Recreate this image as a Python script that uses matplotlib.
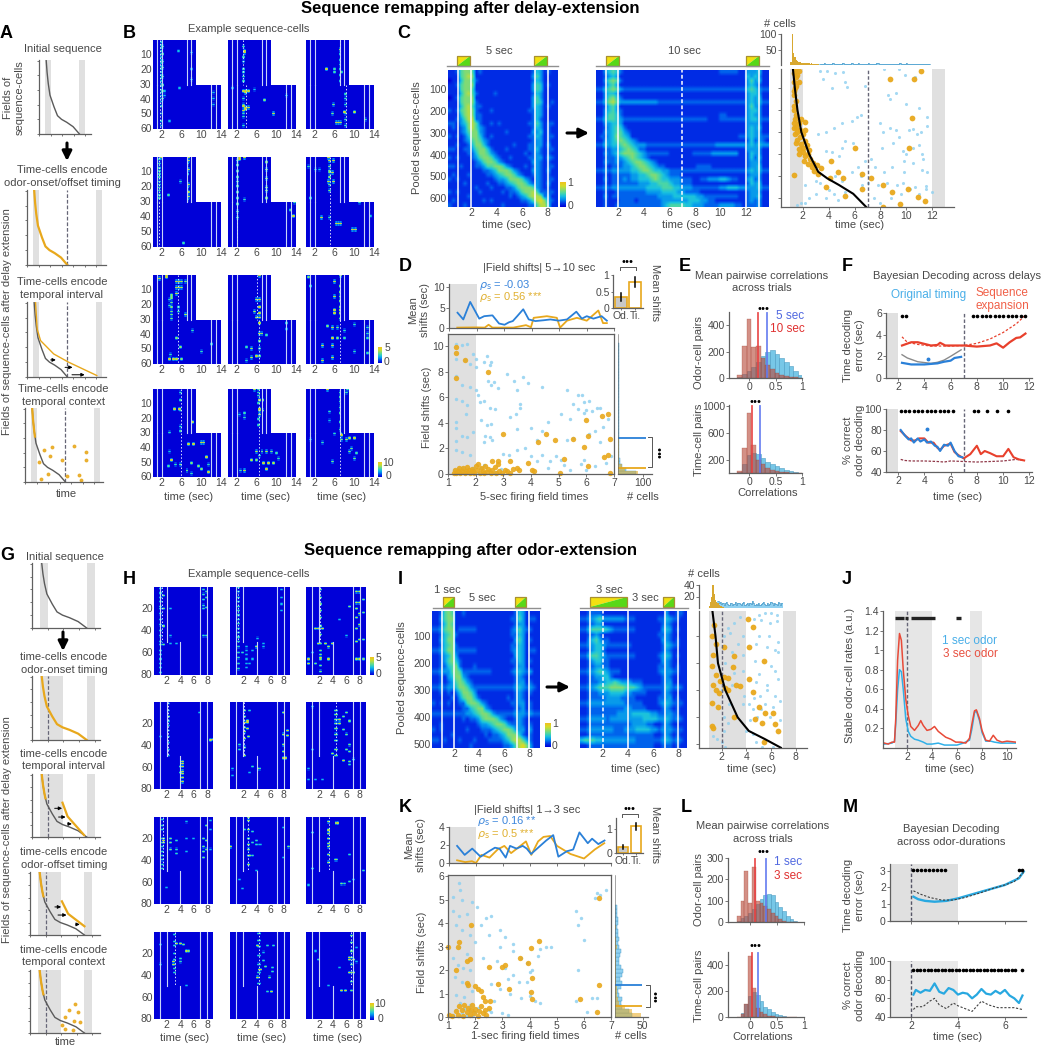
import numpy as np
import matplotlib
matplotlib.use('Agg')
import matplotlib.pyplot as plt
from matplotlib.colors import LinearSegmentedColormap
from matplotlib.patches import Rectangle, Polygon

plt.rcParams['font.family'] = ['Liberation Sans', 'DejaVu Sans']
plt.rcParams['font.size'] = 7.5
plt.rcParams['mathtext.fontset'] = 'dejavusans'

W, H = 1041, 1050
TXT = '#484848'
SP = '#606060'
BAND = '#e0e0e0'
ORG = '#e8a81c'
SKY = '#8fd0f0'
BLU = '#2a80d8'
RED = '#e8402c'
HEAT = LinearSegmentedColormap.from_list('heat', ['#0000d8', '#0038e8', '#0088f0', '#18c0e0', '#50d8a0',
                                                  '#98dc60', '#d8dc28', '#f0c020'])

# ---------------------------------------------------------------- schematic sequence
seq_frac = [0, .16, .31, .47, .63, .75, .8, .84, .9, 1]
seq_time = [1.25, 1.4, 1.6, 1.9, 2.6, 3.2, 3.9, 4.8, 5.9, 7]
top_frac = [0, .16, .31, .38]
top_time = [1.25, 1.4, 1.6, 1.72]
a3_time = [1.48, 1.77, 2.35, 4.64, 7.2, 12.1]
a3_frac = [0, .355, .51, .69, .8, .98]
a4_dot_t = [3.26, 4.7, 8.55, 10.6, 10.6, 4.3, 2.4, 6.4, 3.95, 2.8, 9.3, 9.76, 7.3]
a4_dot_f = [.56, .52, .51, .59, .70, .64, .73, .70, .89, .96, .91, .97, .92]
g3_time = [3.9, 4.55, 6.67]
g3_frac = [.45, .67, .97]
g4_time = [4.1, 4.9, 7.0]
g4_frac = [.46, .66, .86]
g5_dot_t = [5.77, 5.0, 6.2, 4.5, 5.6, 6.37, 4.07, 4.46, 5.5]
g5_dot_f = [.54, .63, .67, .75, .8, .82, .87, .93, .95]

# ---------------------------------------------------------------- example cells, panel B (time, trials, level)
B_cells = [
 [[(1.8,[2,4,6,8,10,12,14,16,18,20,22,24,26,28,30,32,34,36,38,40,42,45,50,55,58],3),(2.0,[5,10,15,19,25,31,35,40],5),(5.2,[8],3),(8,[9,20,27],3),(5.5,[33],3),(2.5,[35,38],3),(12.5,[36,40,44],3),(3.5,[55],3)],
  [(3.5,[8,9],9),(3.3,[5,12,15,20,22,25,28,40,44,50,52,58],4),(3.7,[35,36,46,47],8),(3.2,[35,45,48],7),(4.2,[35,46],7),(9.5,[50],8),(7.7,[41],5),(5.5,[34],3),(1,[33],3),(12,[38],3)],
  [(7.1,[7],8),(7.0,[10,14,17,20,24,28],4),(7.5,[22],4),(8.3,[37,40,44,50,54,58],4),(4.3,[20],8),(6.3,[56],8),(6.8,[56],7),(7.2,[56],6),(8,[49],8),(10,[49],6),(5.5,[50],5),(5.7,[44],5),(12.3,[54],4),(6,[20,22],4)]],
 [[(1.5,[2,5,8,10,12,14,17,19,21,23,26,28],4),(1.9,[1],6),(7.5,[1,3,9,19,24,27],6),(7.2,[5,12,21,29],4),(3.2,[26],4),(5.7,[17],4),(6.2,[58],4)],
  [(2.5,[1,2],9),(3.5,[1],8),(2.1,[3,6,10,14,17,20,24,28,32,37,41],5),(8,[4,9,15,21,23,28],6),(12.8,[36],4),(13.5,[40],8),(13.7,[31],4),(3.5,[29],4)],
  [(4.8,[1],8),(5,[3],7),(5.8,[3],7),(5,[7,10,11,14,17,19,23],5),(5.5,[11],8),(4.7,[17],8),(5.7,[17],7),(1,[28],4),(.7,[7],4),(2,[9],3),(3,[9],3),(3.4,[41],7),(5,[41],4),(6.2,[45],8),(6.8,[45],8),(7.2,[45],8),(9.7,[49],8),(10.3,[49],8),(11,[31],4),(13.2,[40],3)]],
 [[(1.5,[3],7),(3,[1,2],7),(5,[5],9),(5.5,[5,9],8),(6,[5,9],6),(6.7,[5],5),(5,[9,13],7),(4,[14,15,16,19,22,25,27,30],5),(3.5,[17,21],4),(5.2,[22,25],4),(6.8,[27],6),(5,[43],5),(8.3,[38],4),(5.8,[49],5),(3.8,[54],4),(3.5,[57],8),(4.2,[57],8),(5,[57],7),(6,[57],5),(10,[52],4),(12,[47],4)],
  [(6.5,[1,17,22,26,29,33],8),(6,[17,29],6),(5.5,[25],6),(7,[40],8),(6.5,[40],7),(6.4,[45,50,55],5),(8,[41],4),(5,[50,56],6),(4,[49,58],4),(6,[55],7),(12,[33],4),(12,[37],3)],
  [(7,[1,8,12,15,18,22,26,30],6),(7.3,[1],9),(6,[5,15,24,26],7),(6,[15],9),(7,[24,26],9),(1,[8],4),(.7,[2],5),(5.5,[36,43,48,56],7),(6.5,[36,43],5),(8,[38,43],4),(12.7,[36,40,43,53],4),(10,[34],4),(10,[52],4),(3.5,[48,58],7),(4.5,[35],5)]],
 [[(5.8,[3,8,15,26,29],4),(4.5,[14],7),(5.5,[14],7),(8.3,[23],6),(3.5,[30],4),(7.5,[38],8),(8.5,[38],7),(10,[37],8),(10.5,[37],9),(3.5,[43],3),(11,[47],8),(4,[49],8),(3.2,[53],4),(4.8,[52],4),(5.8,[52],5),(8,[51],5),(9.5,[53],5),(11.5,[52],4),(7,[56],6),(8,[58],4),(10,[55],5),(11.5,[57],8)],
  [(5.5,[1],6),(6.2,[1,5],4),(6.5,[8,14,15,18],8),(7.3,[8,15],6),(6.3,[3,10,21,25],4),(3.5,[17,20],4),(2.5,[18],3),(6,[43],6),(7,[43],6),(8,[43],6),(9,[43],5),(5,[49],6),(6,[49],5),(7.5,[51],7),(8.5,[51],7),(9.5,[51],6),(8,[55],8),(3.5,[56],7),(2.8,[56],4),(10,[44],4),(10.5,[48],4),(6.5,[46],4)],
  [(4.5,[1],7),(7,[3,6,9,13,17,23,28],5),(8.5,[3],4),(8.7,[1],4),(5,[16],4),(5,[22],3),(7.2,[31],8),(7.6,[32],7),(6,[31],4),(10,[34],9),(9,[34],6),(8.5,[35],6),(7.5,[35],5),(3.5,[37],4),(9.5,[41],5),(10.5,[44],4),(9,[43],5),(5.5,[50],5),(10,[48],5),(1,[35],3)]],
]
B_dash = [[(1.7, 1.7), (3.3, 3.8), (7.0, 8.3)], [(1.4, 1.4), (2.1, 2.1), (5.1, 5.1)],
          [(5.3, 5.3), (6.0, 6.5), (7.0, 7.0)], [(5.8, 5.8), (6.4, 6.4), (7.0, 7.0)]]
B_ticks_x = [2, 6, 10, 14]
B_ticks_y = [10, 20, 30, 40, 50, 60]

# ---------------------------------------------------------------- example cells, panel H
H_cells = [
 [[(1.1,[2,6,10,14,18,20,25,30,35,40,45,50,53,58,62,66,70,74,78],4),(1.5,[8,20,36,53],5),(7.5,[3,7,12,17,20,45],4),(8,[5,10,19,45],4),(2.5,[20,45,52],3),(3.5,[52],3)],
  [(1.3,[1,5,10,14,18,22,26,30,34,38,42,46,50,55,60,65,70,75],4),(2.5,[55,58,62,66,70,74],3),(3.5,[58,66],3),(4,[55],6),(4.2,[47],3),(5,[52,55],3),(7.7,[3,10,16,22],3),(2,[60],4),(3,[70],3)],
  [(2.2,[3,10,16,22,28,36,44,52,58,62,66,72,77],5),(1.5,[38],7),(2,[38],8),(2.5,[38],7),(2,[52],8),(3,[52],7),(4,[52],7),(3.5,[55],6),(2.2,[65],9),(.5,[66,70],7),(1.5,[70],5),(3.5,[66],7),(7.5,[5,15,20,28,38,50,66],6),(8,[5,15,25,35,48,66],6),(6.5,[18],5),(8.5,[12,24,48,66],5),(1,[60],3),(5,[30],3),(6,[45],3)]],
 [[(2.2,[2,8,14,18,22,27,32,38,44,50],3),(2.3,[14],6),(4.3,[55,57,60,64,66,70,74],8),(4,[60,65],5),(8.5,[35,36],6),(8.8,[35],8),(1,[32],3),(6.9,[10],3)],
  [(2.2,[8,14,24,28,34,42,50],6),(2.7,[18,19,25],8),(2.2,[19],8),(3,[8],4),(1.5,[40,44],4),(2.8,[32],6),(8,[10,30,40,46,52],6),(8.5,[27,31],7),(8.3,[52],9),(3.5,[60],4),(4.3,[62],5),(.5,[62,68],3),(3,[65],3)],
  [(4.5,[8,12,17,20,25,30,36,44,50],5),(5,[17,20],7),(5.5,[14,26],5),(6,[10,30,44],5),(6.5,[18,40,46,55],5),(5.5,[54],8),(4,[48],6),(6.5,[58],4),(1,[44],3),(.5,[62,72],3),(1.5,[72],3),(2.5,[72],3),(1,[5],3),(7,[53],4)]],
 [[(1.3,[3,8,12,20,24,28,32,36,40,44,48],4),(1.5,[20,22,24],8),(2.5,[20,24,30],5),(3.5,[22,30,34],4),(5,[20,32],3),(6,[20],3),(7.5,[20,28,32,38],5),(8,[8,22,30],5),(8.5,[4,12,30],3),(5,[5],3),(2,[65],3)],
  [(2.8,[1,4,12,20,26,30,36,44],6),(3,[36],8),(2.2,[12],4),(3.5,[14,24,36],4),(4,[22,26],4),(4.5,[26],3),(.2,[28],8),(8.7,[28],5),(4,[50],3),(2,[66],3),(1.5,[58],3),(8,[10,38],3)],
  [(3.5,[5,12,16,20,25,28,35,42],6),(3.5,[13],9),(4.7,[6],8),(4.5,[40],5),(1,[15,48],4),(.5,[63],3),(6.5,[35,60],4),(5.2,[62],5),(5.7,[62],4),(7,[58],3),(8.5,[50],4)]],
 [[(3.2,[3,9,13,20,26,30,34,38],4),(3.5,[11],8),(4,[11],9),(4.5,[12],5),(5,[18],6),(5.3,[18],5),(3,[28,30],7),(1,[12,30],3),(4,[25,28],4),(5,[50],3)],
  [(4.3,[2,8,14,22,30,38,48],4),(4.2,[13],8),(4.2,[42],8),(4.5,[35],7),(5.5,[13],4),(6.5,[13],4),(5,[27],4),(5.2,[32],5),(5.8,[42],5),(6.3,[33,37],4),(5.5,[55],4),(6.2,[55],7),(5,[19],3)],
  [(6.7,[4,10,18,24,30,38,46,54],5),(6.4,[24,26,38],8),(7,[26,38],7),(5.3,[54],7),(5.8,[54],8),(3.5,[50],3),(1.5,[18],3),(2,[26],4),(7.5,[15,28],3),(5,[33],3)]],
]
H_dash = [[1.3, 1.3, 2.2], [2.2, 2.2, 4.5], [1.5, 2.8, 3.5], [3.2, 4.3, 6.7]]
H_ticks_x = [2, 4, 6, 8]
H_ticks_y = [20, 40, 60, 80]

# ---------------------------------------------------------------- pooled heat maps (each digit is a level 0-9)
C_five = ["11256651211111111111112431211","11156761111111111111113531111","01146652111111111111112431111",
"11256661111111111111113541211","11156651111111111111113541111","11146752111121111111112431111",
"01256661111111111111113531111","11156662111111111111113541121","11146752211111111111113431211",
"21256762111211111111122431111","11146762211111111111112431111","11235772211111111111112421111",
"22134675211212111111122531221","12123675321111111111112431211","11123566321111121111113341211",
"21212466421211111111122431221","11112356532111111111112331211","11211246642111111211122331311",
"22112235664211121111122421221","11111224665321111111212321211","21211123566532112111122331321",
"11111112356653211111113321211","22121112235566532111212321221","11111111122346665321113321311",
"12111211112234566532112321211","21211111111123346665321321221","11112111112112234566532321311",
"11111112111211122356665321211","21211111211111212235667522221","11111211111111112123467762311",
"12111111121211111112235786321","21112111111111211111122577411"]
C_ten = ["113454211111111111111111111111112222211333411","112343111111111111111111111111111111111434311",
"113565211111111111111111111111111111111353411","112453111111111111111111111111111111111343211",
"224565322222222222222222222222222222222454322","113443111111111111111111111111111111111344311",
"113564211111111111111111111111111111111343411","224675333333333322222222222222222222222343422",
"112453111111111111111111111111111111111353311","113453211111111111111111111111111111111344311",
"113554211111111111111111111111112211111343311","224554322222222222222222222221112222222344322",
"113344311111111111111111111111111111111333311","112345421111111111111111111111111111111343411",
"113345532111111111111111111111111111111343311","122346543111111111111111111111111111122343322",
"113345654321111111111111111111111111111242321","224344565433322222222222222222233333333343433",
"112233456542211111111111111111111111111333311","113234566654322222211111122222333333311243311",
"112223345654321111111111111111111111111242411","113223234566543211111111111111111111111233311",
"112122233456654322111111112222111111111233411","223233333445665443322222222222222222222343422",
"112122222334456654322211111111111111111233311","113122232334445654433322211223334432211342311",
"112122222223334455543322211111111111111243411","223233333333344445554433322222223344433333422",
"112112222222233334444332222111111111111233311","113122222222222233334444443322222222211233411",
"112111222212222223333333444332211111111232311","112112222222222223455554433322223333221222311"]
I_one = ["11256511211111111111112431111","11356611111111111111122531221","11246511111111111111112331111",
"22356612222211111111123532211","11245621111111111111122431111","11346611111111111111113531211",
"11245621111111111111122431111","22346622222211111111123431221","11234631111111111111113431111",
"11235642111111111111122431211","11224562111211111111112331111","22333565222222221111123432311",
"11213466321111111111112321111","11212356532111111111112331211","22323346653222222222223432321",
"11212124665311111111112321211","11111213566421111111212321111","21212112256653211111122331211",
"11111111224566321111112231211","22222222233456653222223332322","11111111212235666532112321111",
"11211111111123345665322321211","21211111121112223456653331311","11111211111111212234666421211",
"22121112111211122223467753211","11111111112111111112235786311"]
I_three = ["11222211111111111111111311221","22334533333322211111122432211","11223311111111111111112321111",
"22455554322222211111113431211","11223211111111111111122321111","11345322111111111111113321211",
"22334432222222111111112432211","11234421111111111111112321111","22455432222222211111123431211",
"11234422111111111111113321111","11223322111111111111122321211","22334543222111111111123332211",
"11223344211111111111112321111","11222334454333222111112331111","22334555666655543222222432321",
"11222333444433222211112321111","11222223333222211111122331211","22333333333322222111123432221",
"11222222222233222211112321211","11222222223333444443322332211","22333332333333333444433432321",
"11222222222222333322112321111","22333333322233344443323332221","11222222222222222222112321211",
"45554433333333322222223432321","11222222222222222222112221211"]

# ---------------------------------------------------------------- raster C
C_curve_rank = [13, 100, 200, 300, 400, 480, 510, 540, 580, 640]
C_curve_time = [1.25, 1.4, 1.6, 1.9, 2.5, 3.2, 3.9, 4.8, 5.9, 6.9]
C_blue = [(3.3,20),(3.6,60),(3.9,20),(4.5,30),(5.1,25),(5.3,70),(6.8,90),(4.3,100),(5.4,95),(8.3,15),(9.4,15),(9.9,40),(10.7,50),(9.2,120),(8.7,150),(10,170),(11,190),(11.6,230),(8.6,130),(6.5,220),(5.8,250),(6.2,230),(5,260),(4.4,280),(3.8,300),(3.2,310),(8,260),(8.2,300),(8.7,280),(9.2,290),(9.4,320),(10.2,290),(10.5,285),(10.8,310),(11.1,300),(11.6,270),(8.1,370),(9,350),(9.7,385),(10,400),(10.5,370),(11,360),(11.2,400),(7.6,460),(8.3,480),(8.9,460),(9.8,430),(9.8,480),(10.5,440),(11.3,420),(11.2,470),(11.6,480),(5,370),(5.3,340),(5.9,350),(4.8,410),(4.3,390),(3.8,385),(6.3,460),(6.8,430),(7.3,420),(5.8,480),(4.5,500),(5,520),(6.5,500),(7.0,530),(7.8,540),(8.5,530),(9.3,540),(9.7,530),(10.7,550),(11.5,545),(3,520),(3.3,530),(2.2,540),(2.5,600),(3,580),(3.8,600),(4.4,580),(4.7,610),(5.3,570),(6.6,540),(7.5,600),(8,620),(8.8,600),(9.6,580),(10.3,560),(11,580),(11.5,560),(12,570),(2.2,620),(1.6,630),(1.9,620),(4,565)]
C_orange = [(1.4,15),(1.7,20),(1.5,50),(1.7,70),(1.4,100),(1.3,130),(1.5,160),(1.3,200),(1.5,220),(1.9,240),(1.7,260),(2.2,255),(1.3,280),(1.8,290),(2.2,290),(1.4,310),(1.8,320),(2.2,340),(1.5,350),(2,370),(2.5,380),(1.7,400),(2.2,410),(2.6,420),(2.8,440),(3.1,450),(3.4,465),(1.3,30),(1.6,40),(1.35,70),(1.5,90),(1.3,115),(1.35,180),(1.4,240),(1.35,260),(1.5,275),(1.6,300),(2.0,310),(1.6,335),(1.9,355),(2.3,360),(1.7,375),(2.0,390),(2.4,400),(2.1,430),(2.4,445),(2.7,460),(2.9,475),(3.2,490),(11.1,20),(8.7,60),(10.6,60),(10.4,235),(10.2,370),(6,370),(4.2,430),(4.7,480),(4.1,510),(6.6,490),(7.3,510),(8.2,540),(3.8,550),(6.6,560),(8.9,570),(5.3,590),(10.1,560),(10.9,595),(11.4,615),(9.5,625),(8.2,638),(1.3,495),(5.1,510)]
C_hist_orange = [10,100,38,25,15,14,10,10,8,6,5,6,6,6,5,4,5,4,3,3,3,2]
C_hist_blue = [4,3,4,3,5,4,3,4,3,4,5,6,4,3,3,4,3,4,5,4,3,4,3,3,4,5,3,4,3,4,5,4,3,3,4,3,4,3,5,4,3,4,3,4,5,5,4,3,4,3,4,3,3,4,3,4,3,4,3,4,3,4,5,4,3,3,4,5,4,3,4,3,4,3,4,3,4,3,3,4,3,4,3,4,3,3]

# ---------------------------------------------------------------- raster I
I_curve_rank = [7, 100, 200, 250, 300, 350, 400, 450, 480, 512]
I_curve_time = [1.25, 1.5, 1.7, 2.0, 2.3, 2.8, 3.3, 4.2, 5.5, 6.8]
I_blue = [(5,20),(5.5,15),(6,15),(6.5,20),(4.6,35),(5.2,40),(5.9,50),(6.5,45),(3.5,30),(3,50),(2.5,70),(3.7,100),(2.7,90),(5,100),(5.8,100),(6.6,120),(4.8,130),(5.7,140),(6.3,150),(6.6,160),(3.3,130),(2.8,160),(3.7,170),(4.7,190),(6,210),(6.3,230),(5,240),(6.6,260),(5.7,280),(4.8,270),(3.7,230),(3,235),(2.8,280),(3.8,320),(4.6,330),(5.1,320),(5.7,300),(6.3,320),(6.7,340),(6.2,360),(4.2,350),(4.5,370),(3.7,350),(5.5,350),(5.2,370),(5.9,400),(4.9,400),(4.3,410),(6.7,410),(2.2,400),(2.5,420),(2.2,450),(1.6,480),(2,490),(2.3,510),(1.3,470),(4,450),(4.5,460),(4.8,490),(5.3,510),(6.2,510),(2,300),(2.3,200),(2.2,100),(2.6,350)]
I_orange = [(4.1,35),(4.5,65),(4.2,140),(5.4,190),(3,175),(2.9,215),(4.2,260),(1.2,210),(1.5,245),(1.9,265),(3.2,280),(3.5,285),(4.5,305),(1.3,280),(1.5,300),(1.8,310),(2.3,290),(2.5,300),(5,360),(5.5,385),(6.2,385),(4.7,405),(5.3,420),(6.3,425),(6.6,450),(5.4,490),(3,400),(1.2,430),(1.3,440),(1.2,345),(1.7,360),(1.5,130),(1.3,170),(1.4,60),(1.2,100),(2.2,140),(2.5,255),(2.2,250)]
I_hist_orange = [4,10,20,40,25,14,10,9,6,4,3,2]
I_hist_blue = [12,8,10,7,9,6,8,10,7,5,9,8,6,7,10,5,8,9,7,6,8,10,5,7,9,6,8,7,12,9,6,7,5,8,6,7,9,10,7,5,8,6,7,10,8,5,9,7,6,11,8,6,9]

# ---------------------------------------------------------------- panel D
D_blue_t = [1.31,1.52,1.77,2.1,2.28,2.58,2.82,3.02,3.18,3.32,3.48,3.7,3.9,4.14,4.44,4.69,4.99,5.29,5.63,5.83,6.01,6.25,6.55,6.74]
D_blue_v = [3.75,2.1,6.4,2.3,2.9,3.1,1.1,.8,1.4,1.7,2.9,4.6,2.1,1.7,1.9,2.1,1.8,2.1,4.0,2.3,2.9,2.3,2.9,1.8]
D_org_t = [1.3,2.0,2.3,2.44,2.58,3.34,3.8,3.98,4.08,4.56,4.92,5.04,5.29,5.65,6.01,6.43,6.6,6.74]
D_org_v = [.1,.15,.1,.8,.1,.1,.7,.2,2.5,2.9,2.5,.1,1.8,2.5,1.8,4.3,1.2,1.2]
D_pts_blue = [(1.3,10.2),(1.5,10.1),(1.7,10.2),(1.9,9.4),(1.3,9.0),(1.6,8.9),(1.8,8.6),(2.0,8.4),(2.0,9.0),(1.3,7.7),(1.5,7.0),(1.8,6.8),(2.0,6.6),(2.1,6.2),(2.15,5.6),(1.3,5.9),(1.5,5.7),(1.7,5.4),(1.65,4.7),(1.3,4.1),(1.3,3.6),(1.5,3.0),(1.7,2.9),(1.9,3.3),(1.3,2.6),(1.3,1.9),(1.5,1.7),(1.8,1.5),(2.3,8.8),(2.4,9.2),(2.5,8.5),(2.55,8.8),(2.45,7.3),(2.55,7.0),(2.65,7.2),(2.8,6.7),(3.15,7.8),(3.4,7.3),(3.5,6.6),(3.7,7.6),(3.9,7.1),(3.6,5.5),(3.6,5.2),(3.25,4.5),(3.45,4.7),(2.3,5.7),(2.5,5.2),(2.7,5.1),(2.2,4.2),(2.4,3.8),(2.55,3.9),(2.35,3.0),(2.5,2.9),(2.6,2.7),(2.3,2.5),(3.5,3.5),(4.0,3.6),(4.4,3.4),(4.2,2.7),(4.6,4.1),(4.4,6.8),(3.0,1.6),(3.2,1.5),(3.5,1.9),(3.8,2.0),(4.0,1.4),(4.2,1.0),(4.4,1.5),(4.7,1.0),(4.9,1.4),(5.1,4.7),(5.4,4.3),(5.3,6.6),(5.5,5.5),(5.7,6.2),(5.85,6.2),(5.9,5.6),(6.1,5.7),(5.7,5.1),(5.9,4.8),(6.0,5.0),(6.4,5.2),(6.2,4.9),(6.5,5.2),(6.8,4.3),(6.6,3.7),(6.3,3.4),(6.1,3.1),(5.5,2.8),(5.3,2.7),(5.9,1.1),(5.8,0.8),(5.2,0.7),(5.4,0.3),(6.0,0.3),(6.3,0.6),(6.7,0.9),(6.9,1.4),(6.5,2.5),(5.1,1.1),(4.6,0.5),(2.2,0.5),(1.2,.3),(1.3,.1),(1.35,.4),(1.45,.2),(1.5,.5),(1.6,.1),(1.65,.3),(1.8,.2),(1.9,.5),(2.1,.1),(2.3,.7),(2.5,.3),(2.7,.15),(2.9,.4)]
D_pts_org = [(1.3,9.95),(1.3,9.45),(1.6,8.95),(1.3,7.5),(2.45,8.0),(3.0,3.1),(4.25,2.5),(4.55,3.1),(4.85,2.7),(5.5,2.75),(6.05,2.95),(5.9,2.1),(6.0,4.25),(6.55,4.55),(6.8,4.7),(6.85,2.75),(6.65,1.35),(6.8,1.45),(6.05,.65),(5.2,1.2),(3.25,1.0),(2.6,1.05),(2.8,1.0),(2.8,.8),(3.9,.85),(4.05,.3),(4.1,.2),(3.5,.45),(3.55,.35),(5.05,.05),(6.85,.05),(1.2,.1),(1.25,.3),(1.3,.05),(1.35,.2),(1.4,.5),(1.45,.1),(1.5,.25),(1.55,.45),(1.6,.05),(1.65,.2),(1.7,.55),(1.75,.3),(1.8,.1),(1.85,.4),(1.9,.2),(1.95,.05),(2.0,.6),(2.05,.3),(2.1,.8),(2.15,.1),(2.2,.5),(2.25,.25),(2.3,.05),(2.35,.65),(2.4,.15),(2.45,.4),(2.55,.1),(2.6,.3),(2.7,.55),(2.75,.05),(2.85,.25),(2.95,.1),(3.05,.35),(3.15,.2),(3.25,.05),(3.35,.4)]
D_side_bins = [.12,.37,.62,.87,1.12,1.37,1.62,1.87,2.12,2.37,2.62,2.87,3.12,3.37,3.62,3.87,4.12,4.37,4.62,4.87,5.12,5.37,5.62,5.87,6.12,6.37,6.62,6.87,7.12,7.37,7.62,7.87,8.12,8.37,8.62,8.87,9.12,9.37,9.62,9.87,10.12]
D_side_blue = [70,32,14,8,6,5,5,4,4,4,4,3,3,3,3,3,3,3,3,2,3,2,3,2,2,2,2,2,2,2,2,2,2,2,2,2,2,2,2,2,2]
D_side_org = [80,28,14,5,4,3,2,2,2,2,2,1,1,1,1,1,1,1,0,0,0,0,0,0,0,0,0,0,0,0,0,0,1,0,0,0,0,1,0,1,0]
D_bar = [.33, .8]
D_bar_err = [(.2, .45), (.65, .95)]

# ---------------------------------------------------------------- panel E
E_bin = .088
E_k = [-2,-1,0,1,2,3,4,5,6,7,8,9,10,11,12]
E_up_red = [20,240,450,235,240,150,100,70,40,25,15,8,5,2,1]
E_up_blue = [10,30,50,80,120,170,200,210,180,150,120,90,50,25,10]
E_lo_red = [30,380,900,420,200,130,80,50,30,15,8,3,1,0,0]
E_lo_blue = [10,130,270,300,280,230,170,140,110,80,50,25,12,5,1]

# ---------------------------------------------------------------- panel F
F_red_t = [2.3,3,3.5,4,4.5,5,5.2,5.6,6,7,8,8.5,9,9.5,10,10.5,11,11.3,11.7]
F_red_v = [3.0,3.3,3.3,3.15,3.0,3.05,3.25,3.0,3.0,3.0,2.9,2.95,3.0,3.2,2.8,3.3,3.7,3.75,4.1]
F_rdash_t = [2.3,2.7,3.5,4.5,6,7,8,9,10,11,11.7]
F_rdash_v = [3.8,3.3,3.1,2.95,2.95,3.0,3.2,3.6,4.2,5.0,5.8]
F_blue_t = [2.3,3,4,5,5.5,6,6.3,6.8]
F_blue_v = [1.4,1.25,1.25,1.35,1.5,1.6,1.85,1.95]
F_gray_t = [2.3,2.7,3.5,4.5,5,5.5,6,6.8]
F_gray_v = [2.15,1.85,1.5,1.35,1.45,1.65,2.0,2.6]
F_st_up = [2.3,2.6,7.7,8.03,8.36,8.69,9.02,9.35,9.68,10.01,10.34,10.67,11,11.33,11.66]
F_lo_blue_t = [2.2,2.5,2.8,3,3.2,3.5,3.7,4,4.2,4.5,4.8,5,5.2,5.5,5.8,6,6.3,6.6,6.9]
F_lo_blue_v = [80,75,71,72,68,72,69,71,68,69,65,64,60,66,65,68,60,55,54]
F_lo_red_t = [2.2,2.6,3,3.3,3.6,4,4.3,4.7,5,5.2,5.5,6,6.3,6.6,7,7.5,8,8.3,8.6,9,9.5,10,10.4,10.8,11.2,11.6]
F_lo_red_v = [79,74,70,70,72,72,68,68,63,61,65,67,59,56,53,57,65,57,60,58,55,55,62,54,52,51]
F_ld_t = [2.2,2.5,3,4,5,5.5,6,7,8,9,10,11,11.6]
F_ld_v = [52,51,50.5,50.5,50,49.5,50.5,50,49.5,50,50.5,52,51]
F_st_lo = [2.2,2.53,2.86,3.19,3.52,3.85,4.18,4.51,4.84,5.17,5.5,5.83,6.16,7.8,8.1,8.8,9.5,10.4]

# ---------------------------------------------------------------- panel J
J_red_t = [.2,.5,.8,1,1.1,1.25,1.4,1.55,1.7,1.9,2.1,2.3,2.6,2.9,3.1,3.3,3.6,3.9,4.2,4.5,4.8,5.1,5.5,5.9,6.3,6.7,7,7.2,7.4,7.55,7.8,8,8.3,8.6,8.9,9.2,9.6,10,10.7]
J_red_v = [.05,.04,.06,.06,.3,.9,1.17,1.1,.8,.5,.33,.22,.18,.23,.28,.23,.18,.19,.22,.17,.14,.11,.09,.06,.06,.05,.1,.25,.38,.39,.3,.18,.08,.07,.13,.08,.06,.07,.06]
J_blue_t = [.2,.8,1,1.1,1.25,1.4,1.55,1.7,1.9,2.1,2.3,2.6,2.9,3.3,3.6,4,4.5,5,5.5,6,6.5,7,7.2,7.4,7.55,7.8,8,8.3,8.7,9,9.5,10,10.7]
J_blue_v = [.04,.05,.07,.25,.6,.8,.78,.6,.3,.17,.12,.09,.08,.06,.04,.04,.05,.03,.03,.03,.05,.08,.2,.36,.38,.28,.16,.07,.07,.06,.05,.05,.05]
J_bars = [(1.0,1.75),(1.85,2.1),(2.3,4.25),(5.95,6.3)]

# ---------------------------------------------------------------- panel K
K_blue_t = [1.3,1.58,1.86,2.17,2.48,2.7,2.87,3.1,3.26,3.5,3.73,3.88,4.04,4.3,4.6,4.86,5.05,5.36,5.6,5.83,6.14,6.3,6.53,6.76]
K_blue_v = [1.9,.9,1.6,.7,1.3,1.7,1.6,.6,1.9,1.6,1.9,1.6,1.0,1.7,2.5,3.1,.7,1.3,1.5,3.4,2.2,2.7,2.1,2.5]
K_org_t = [1.3,1.6,1.85,2.0,2.2,2.5,2.8,3.05,3.3,3.6,3.85,4.05,4.3,4.5,4.75,5.0,5.5,6.0,6.4,6.75]
K_org_v = [.3,.1,.2,0,.9,.6,1.5,1.9,1.1,1.8,2.4,.9,2.4,2.9,3.0,1.9,1.0,.5,1.5,2.2]
K_pts_blue = [(1.4,5.7),(1.45,5.4),(1.2,5.1),(1.5,5.0),(1.9,4.9),(2.05,4.7),(1.2,4.5),(1.4,4.3),(1.7,4.4),(1.3,3.9),(1.5,3.7),(1.8,3.5),(2.0,3.2),(1.4,3.0),(1.7,2.7),(1.2,2.5),(1.35,2.2),(1.55,2.1),(1.8,2.0),(1.25,1.7),(1.5,1.5),(1.7,1.3),(1.9,1.1),(1.3,.95),(1.6,.85),(1.45,.6),(1.8,.5),(2.4,4.2),(2.6,4.3),(2.2,3.9),(2.5,3.5),(2.9,3.7),(3.1,3.4),(3.4,3.1),(2.9,3.0),(3.4,2.8),(2.3,2.5),(2.8,2.4),(3.1,2.1),(3.7,2.5),(3.9,2.3),(4.0,1.9),(4.1,2.0),(4.3,2.6),(4.4,2.9),(4.6,3.0),(4.8,3.0),(3.2,1.6),(3.4,1.8),(3.6,1.5),(3.9,1.5),(2.6,1.4),(2.9,1.2),(3.3,1.0),(3.7,.8),(4.0,.9),(4.2,.7),(4.4,.6),(2.7,.7),(2.5,.3),(2.6,.2),(3.0,.15),(3.2,.1),(5.7,4.5),(5.8,3.9),(6.0,3.3),(5.9,4.2),(6.5,5.3),(6.6,5.2),(6.4,5.05),(6.8,5.4),(5.8,2.0),(5.7,.7),(6.3,.8),(6.5,.8),(6.1,.2),(1.2,.1),(1.3,.3),(1.4,.05),(1.5,.15),(1.6,.35),(1.7,.1),(1.8,.25),(1.9,.05),(2.0,.2),(2.1,.4)]
K_pts_org = [(1.0,3.0),(1.35,3.0),(1.4,3.2),(1.85,3.9),(1.7,2.4),(1.8,2.45),(1.7,1.45),(1.75,1.35),(2.0,1.3),(2.1,1.2),(2.2,1.1),(2.5,2.15),(3.0,2.15),(3.1,2.2),(3.65,2.5),(3.95,2.3),(3.25,1.2),(2.85,1.4),(4.05,2.95),(4.35,3.25),(4.1,1.65),(4.05,1.05),(4.1,.75),(2.3,.85),(2.35,.7),(2.55,.7),(5.85,.75),(6.55,1.35),(6.55,5.05),(6.5,.2),(1.3,2.0),(1.05,.1),(1.15,.05),(1.3,.25),(1.35,.1),(1.4,.45),(1.5,.3),(1.55,.05),(1.6,.5),(1.7,.2),(1.75,.4),(1.8,.1),(1.85,.3),(1.9,.5),(1.95,.15),(2.0,.35),(2.1,.05),(2.15,.25),(2.2,.45),(2.3,.15),(2.35,.3),(2.4,.1),(2.5,.4)]
K_side_bins = [.08,.25,.42,.59,.76,.93,1.1,1.27,1.44,1.61,1.78,1.95,2.12,2.29,2.46,2.63,2.8,2.97,3.14,3.31,3.48,3.65,3.82,3.99,4.16,4.33,4.5,4.67]
K_side_blue = [30,25,12,10,12,8,6,10,12,9,12,14,10,8,7,9,10,8,5,7,6,6,4,6,5,4,3,3]
K_side_org = [48,30,18,8,5,4,4,3,2,2,2,2,2,2,2,1,1,3,1,1,0,0,1,0,0,0,0,0]
K_bar = [.25, 1.1]
K_bar_err = [(.15, .35), (.95, 1.25)]

# ---------------------------------------------------------------- panel L
L_centers = [-.21,-.14,-.07,0,.07,.14,.21,.28,.35,.42,.49,.56,.63,.7,.77,.84]
L_up_red = [30,100,240,90,260,100,90,75,60,40,30,15,6,2,1,0]
L_up_blue = [5,20,30,40,60,85,110,125,130,125,95,70,50,30,15,6]
L_lo_red = [2,20,100,470,220,70,40,20,10,4,2,1,0,0,0,0]
L_lo_blue = [3,30,100,160,190,170,120,80,60,40,25,15,8,3,1,0]

# ---------------------------------------------------------------- panel M
M_blue_t = [2.1,2.3,2.6,3,3.5,4,4.5,5,5.5,6,6.3,6.6,6.8]
M_blue_v = [1.45,1.3,1.2,1.15,1.2,1.35,1.55,1.75,1.95,2.15,2.35,2.55,2.95]
M_dash_t = [2.1,2.4,2.8,3.3,3.8,4.3,5,5.5,6,6.4,6.8]
M_dash_v = [1.8,1.6,1.4,1.25,1.25,1.4,1.7,1.95,2.15,2.35,2.9]
M_st_up = [2.1,2.27,2.44,2.61,2.78,2.95,3.12,3.29,3.46,6.6,6.75]
M_lo_t = [2.1,2.2,2.4,2.6,2.8,3,3.2,3.4,3.6,3.8,4,4.2,4.4,4.6,4.8,5,5.2,5.4,5.6,5.8,6,6.2,6.4,6.6,6.75]
M_lo_v = [64,69,66,69,68,76,67,65,71,69,64,66,65,60,64,70,65,64,68,65,69,63,60,55,63]
M_ld_t = [2.1,2.2,2.5,2.8,3,3.2,3.5,3.8,4,4.3,4.6,5,5.3,5.7,6,6.4,6.75]
M_ld_v = [48,51,51,57,60,53,49,55,52,49,46,57,53,50,50,50,48]
M_st_lo = [2.1,2.25,2.4,2.55,2.7,2.85,3,3.15,3.3,3.45,3.6,3.75,3.9,4.05,4.2,4.35,4.5,4.65,4.8,4.95,5.1,5.25,5.4,5.55,5.7,5.85,6,6.15,6.3,6.45,6.75]

# ================================================================ helpers
fig = plt.figure(figsize=(W / 100, H / 100), dpi=100, facecolor='white')


def AX(x0, y0, x1, y1):
    ax = fig.add_axes([x0 / W, 1 - y1 / H, (x1 - x0) / W, (y1 - y0) / H])
    ax.patch.set_alpha(0)
    return ax


def T(x, y, s, size=8, color=TXT, **kw):
    kw.setdefault('ha', 'center')
    kw.setdefault('va', 'center')
    fig.text(x / W, 1 - y / H, s, fontsize=size, color=color, **kw)


def style(ax, left=True, bottom=True, box=False, length=2):
    for k in ax.spines:
        ax.spines[k].set_linewidth(.9)
        ax.spines[k].set_color(SP)
    ax.spines['top'].set_visible(box)
    ax.spines['right'].set_visible(box)
    ax.spines['left'].set_visible(left)
    ax.spines['bottom'].set_visible(bottom)
    ax.tick_params(length=length, width=.6, color=SP, labelsize=7.5, labelcolor=TXT, pad=1)


def letters(items):
    for s, x, y in items:
        T(x, y, s, size=13, color='black', fontweight='bold')


def to_matrix(rows):
    n = max(len(r) for r in rows)
    return np.array([[int(c) / 9 for c in r.ljust(n, '1')] for r in rows])


def ev_matrix(events, tmin, tmax, nrow, dt=.2):
    nc = int(round((tmax - tmin) / dt))
    M = np.zeros((nrow, nc))
    for t, rows, lev in events:
        i = int((t - tmin) / dt)
        v = min(1, lev / 9 * 1.3)
        for r in rows:
            for dr, wr in ((-1, .3), (0, 1), (1, .3)):
                for j, w in ((i - 1, .7), (i, 1), (i + 1, .7)):
                    rr = r + dr
                    if 0 <= j < nc and 1 <= rr <= nrow:
                        M[rr - 1, j] = max(M[rr - 1, j], w * wr * v)
    return M


def odor_box(x0, x1, y0, y1):
    ov.add_patch(Polygon([(x0, y0), (x1, y0), (x0, y1)], fc='#f2e010', ec='none'))
    ov.add_patch(Polygon([(x1, y0), (x1, y1), (x0, y1)], fc='#58d818', ec='none'))
    ov.add_patch(Rectangle((x0, y0), x1 - x0, y1 - y0, fc='none', ec='#a89030', lw=.9))


def big_arrow(x0, y0, x1, y1, ms=14, lw=2.2):
    ov.annotate('', xy=(x1, y1), xytext=(x0, y0),
                arrowprops=dict(arrowstyle='-|>', lw=lw, color='black', mutation_scale=ms, shrinkA=0, shrinkB=0))


def cbar(x0, y0, x1, y1, top, bottom='0', lx=None):
    ax = AX(x0, y0, x1, y1)
    ax.imshow(np.linspace(1, 0, 64)[:, None], aspect='auto', cmap=HEAT, vmin=0, vmax=1)
    ax.axis('off')
    lx = x1 + 5 if lx is None else lx
    T(lx, y0 + 1, top, size=7.5)
    T(lx, y1 - 1, bottom, size=7.5)


ov = fig.add_axes([0, 0, 1, 1], zorder=20)
ov.set_xlim(0, W)
ov.set_ylim(H, 0)
ov.axis('off')
ov.patch.set_alpha(0)

# ================================================================ titles / letters
T(470, 9, 'Sequence remapping after delay-extension', size=12, color='black', fontweight='bold')
T(471, 550, 'Sequence remapping after odor-extension', size=12, color='black', fontweight='bold')
letters([('A', 6, 33), ('B', 129, 33), ('C', 404, 33), ('D', 405, 267), ('E', 685, 267), ('F', 847, 267),
         ('G', 7, 556), ('H', 129, 580), ('I', 400, 580), ('J', 847, 580), ('K', 405, 808), ('L', 686, 808), ('M', 850, 808)])


# ================================================================ schematics
def schematic(box, tmax, bands, dash=None):
    ax = AX(*box)
    ax.set_xlim(0, tmax)
    ax.set_ylim(1, -.01)
    for a, b in bands:
        ax.axvspan(a, b, color=BAND, lw=0)
    if dash is not None:
        ax.axvline(dash, color='#666677', lw=.9, ls=(0, (3, 1.5)))
    style(ax, length=1.2)
    ax.set_xticks(np.arange(0, tmax, 2))
    ax.set_yticks([0, .2, .4, .6, .8, 1])
    ax.set_xticklabels([])
    ax.set_yticklabels([])
    return ax


GRAY = '#5a5a5a'
ax = schematic((39, 60, 91, 134), 9, [(1, 2), (7, 8)])
ax.plot(seq_time, seq_frac, color=GRAY, lw=1)

ax = schematic((27, 190, 106, 265), 13.7, [(1, 2), (12, 13)], 7)
ax.plot(seq_time, seq_frac, color=ORG, lw=1.6)

ax = schematic((27, 302, 106, 377), 13.7, [(1, 2), (12, 13)], 7)
ax.plot(seq_time, seq_frac, color=GRAY, lw=1)
ax.plot(a3_time, a3_frac, color=ORG, lw=1)
for t0, t1, f in [(4.1, 5.0, .77), (6.6, 7.9, .87), (7.8, 10.0, .97)]:
    ax.annotate('', xy=(t1, f), xytext=(t0, f),
                arrowprops=dict(arrowstyle='-|>', lw=.7, color='black', mutation_scale=5, shrinkA=0, shrinkB=0))

ax = schematic((25, 408, 103, 482), 13.5, [(1, 2), (12, 13)], 7)
ax.plot(seq_time, seq_frac, color=GRAY, lw=1)
ax.plot(top_time, top_frac, color=ORG, lw=1.6)
ax.plot(a4_dot_t, a4_dot_f, ls='none', marker='o', ms=1.8, color=ORG, alpha=.85)

ax = schematic((32, 563, 100, 628), 8.7, [(1, 2), (7, 8)])
ax.plot(seq_time, seq_frac, color=GRAY, lw=1)

ax = schematic((32, 676, 100, 740), 8.7, [(1, 4), (7, 8)], 2)
ax.plot(seq_time, seq_frac, color=ORG, lw=1.6)

ax = schematic((32, 774, 100, 837), 8.7, [(1, 4), (7, 8)], 2)
ax.plot(seq_time, seq_frac, color=GRAY, lw=1)
ax.plot(top_time, top_frac, color=ORG, lw=1.6)
ax.plot(g3_time, g3_frac, color=ORG, lw=1.6)
for t0, t1, f in [(2.9, 3.85, .54), (3.4, 4.3, .68), (4.55, 5.1, .79)]:
    ax.annotate('', xy=(t1, f), xytext=(t0, f), arrowprops=dict(arrowstyle='-|>', lw=.7, color='black', mutation_scale=5, shrinkA=0, shrinkB=0))

ax = schematic((30, 872, 100, 935), 9, [(1, 4), (7, 8)], 2)
ax.plot(seq_time, seq_frac, color=GRAY, lw=1)
ax.plot(top_time, top_frac, color=ORG, lw=1.6)
ax.plot(g4_time, g4_frac, color=ORG, lw=1.6)
for t0, t1, f in [(3.2, 4.0, .55), (3.6, 4.7, .68), (5.9, 6.4, .83)]:
    ax.annotate('', xy=(t1, f), xytext=(t0, f), arrowprops=dict(arrowstyle='-|>', lw=.7, color='black', mutation_scale=5, shrinkA=0, shrinkB=0))

ax = schematic((30, 970, 100, 1033), 9, [(1, 4), (7, 8)], 2)
ax.plot(seq_time, seq_frac, color=GRAY, lw=1)
ax.plot(top_time, top_frac, color=ORG, lw=1.6)
ax.plot(g5_dot_t, g5_dot_f, ls='none', marker='o', ms=1.8, color=ORG, alpha=.85)

T(63, 49, 'Initial sequence')
T(14, 98, 'Fields of\nsequence-cells', rotation=90, linespacing=1.25)
T(62, 176.5, 'Time-cells encode\nodor-onset/offset timing', linespacing=1.3)
T(62, 288.5, 'Time-cells encode\ntemporal interval', linespacing=1.3)
T(63, 395.5, 'Time-cells encode\ntemporal context', linespacing=1.3)
T(7, 322, 'Fields of sequence-cells after delay extension', rotation=90)
T(66, 494, 'time')
big_arrow(67, 143, 67, 161)

T(65, 557, 'Initial sequence')
T(64, 663.5, 'time-cells encode\nodor-onset timing', linespacing=1.3)
T(64, 760, 'time-cells encode\ntemporal interval', linespacing=1.3)
T(64, 858.5, 'time-cells encode\nodor-offset timing', linespacing=1.3)
T(64, 956, 'time-cells encode\ntemporal context', linespacing=1.3)
T(7, 830, 'Fields of sequence-cells after delay extension', rotation=90)
T(65, 1042, 'time')
big_arrow(63, 632, 63, 651)

# ================================================================ panel B
B_cols = [(153, 221), (228, 296), (306, 374)]
B_rows = [(40, 129), (157, 247), (275, 364), (389, 477)]
for r, (y0, y1) in enumerate(B_rows):
    for c, (x0, x1) in enumerate(B_cols):
        ax = AX(x0, y0, x1, y1)
        M = ev_matrix(B_cells[r][c], .2, 14, 60)
        ax.imshow(M, extent=[.2, 14, 60.5, .5], aspect='auto', cmap=HEAT, vmin=0, vmax=1, interpolation='nearest')
        for t in (1, 2, 7, 8):
            ax.plot([t, t], [.5, 30.5], color='#c8d4f8', lw=.8)
        for t in (1, 2, 12, 13):
            ax.plot([t, t], [30.5, 60.5], color='#c8d4f8', lw=.8)
        da, db = B_dash[r][c]
        ax.plot([da, da], [.5, 30.5], color='#d8e0ff', lw=.7, ls=(0, (1.5, 2)))
        ax.plot([db, db], [30.5, 60.5], color='#d8e0ff', lw=.7, ls=(0, (1.5, 2)))
        ax.add_patch(Rectangle((9, .5), 5.2, 30, fc='white', ec='none', zorder=5))
        ax.set_xlim(.2, 14)
        ax.set_ylim(60.5, .5)
        ax.set_xticks(B_ticks_x)
        ax.set_yticks(B_ticks_y if c == 0 else [])
        style(ax, False, False, length=0)
T(249, 29, 'Example sequence-cells')
for x in (189, 266, 342):
    T(x, 497, 'time (sec)')
cbar(378, 347, 382, 363, '5')
cbar(378, 462, 382, 477, '10', lx=388)

# ================================================================ panel H
H_cols = [(154, 213), (230, 290), (306, 366)]
H_rows = [(587, 675), (702, 789), (817, 904), (932, 1019)]
for r, (y0, y1) in enumerate(H_rows):
    for c, (x0, x1) in enumerate(H_cols):
        ax = AX(x0, y0, x1, y1)
        M = ev_matrix(H_cells[r][c], .1, 8.9, 80, dt=.15)
        ax.imshow(M, extent=[.1, 8.9, 80.5, .5], aspect='auto', cmap=HEAT, vmin=0, vmax=1, interpolation='nearest')
        for t in (1, 7, 8):
            ax.plot([t, t], [.5, 80.5], color='#c8d4f8', lw=.8)
        ax.plot([2, 2], [.5, 50.5], color='#c8d4f8', lw=.8)
        ax.plot([4, 4], [50.5, 80.5], color='#c8d4f8', lw=.8)
        d = H_dash[r][c]
        ax.plot([d, d], [.5, 50.5], color='#d8e0ff', lw=.7, ls=(0, (1.5, 2)))
        ax.set_xlim(.1, 8.9)
        ax.set_ylim(80.5, .5)
        ax.set_xticks(H_ticks_x)
        ax.set_yticks(H_ticks_y if c == 0 else [])
        style(ax, False, False, length=0)
T(249, 574, 'Example sequence-cells')
for x in (185, 262, 338):
    T(x, 1038, 'time (sec)')
cbar(370, 657, 374, 675, '5', lx=378)
cbar(370, 1003, 374, 1020, '10', lx=380)


# ================================================================ pooled heat maps
def pooled(box, rows, xlim, ylim, lines, dashed, xticks, yticks):
    ax = AX(*box)
    ax.imshow(to_matrix(rows), extent=[xlim[0], xlim[1], ylim[1], ylim[0]], aspect='auto', cmap=HEAT, vmin=0, vmax=1,
              interpolation='bilinear')
    for t in lines:
        ax.axvline(t, color='white', lw=1.1)
    for t in dashed:
        ax.axvline(t, color='white', lw=1.1, ls=(0, (2.5, 1.5)))
    ax.set_xlim(*xlim)
    ax.set_ylim(ylim[1], ylim[0])
    ax.set_xticks(xticks)
    ax.set_yticks(yticks)
    style(ax, False, False, length=0)
    return ax


pooled((448, 70, 558, 207), C_five, (.2, 8.8), (13, 640), (1, 2, 7, 8), (), [2, 4, 6, 8], [100, 200, 300, 400, 500, 600])
pooled((596, 70, 769, 207), C_ten, (.25, 13.8), (13, 640), (1, 2, 12, 13), (7,), [2, 4, 6, 8, 10, 12], [])
ov.plot([447, 558], [66, 66], color='#909090', lw=1)
ov.plot([596, 769], [66, 66], color='#909090', lw=1)
odor_box(457, 470, 56, 66)
odor_box(534, 547, 56, 66)
odor_box(606, 619, 56, 66)
odor_box(746, 759, 56, 66)
T(499, 51, '5 sec')
T(684, 51, '10 sec')
T(417, 138, 'Pooled sequence-cells', rotation=90)
T(507, 225, 'time (sec)')
T(687, 225, 'time (sec)')
big_arrow(567, 133, 589, 133)
cbar(560, 182, 566, 207, '1', lx=570)

pooled((432, 611, 540, 748), I_one, (.24, 8.88), (7, 513), (1, 2, 7, 8), (), [2, 4, 6, 8], [100, 200, 300, 400, 500])
pooled((580, 611, 687, 748), I_three, (.19, 8.72), (7, 513), (1, 4, 7, 8), (2,), [2, 4, 6, 8], [])
ov.plot([433, 540], [608, 608], color='#909090', lw=1)
ov.plot([580, 688], [608, 608], color='#909090', lw=1)
odor_box(443, 454, 597, 607)
odor_box(515, 526, 597, 607)
odor_box(590, 627, 597, 607)
odor_box(663, 674, 597, 607)
T(447, 590, '1 sec')
T(482, 598, '5 sec')
T(609, 590, '3 sec')
T(645, 598, '3 sec')
T(402, 678, 'Pooled sequence-cells', rotation=90)
T(489, 769, 'time (sec)')
T(636, 769, 'time (sec)')
big_arrow(547, 687, 570, 687)
cbar(545, 723, 551, 747, '1', lx=555)


# ================================================================ rasters
def raster(box, hbox, xlim, ylim, bands, dash, blue, org, curve_t, curve_r, xticks, yticks, hst, hob, hbb, hyl, hyt):
    ax = AX(*box)
    for a, b in bands:
        ax.axvspan(a, b, color=BAND, lw=0)
    ax.axvline(dash, color='#666677', lw=1, ls=(0, (2.5, 1.5)))
    b = np.array(blue)
    o = np.array(org)
    ax.scatter(b[:, 0], b[:, 1], s=5, color=SKY, alpha=.8, lw=0)
    ax.scatter(o[:, 0], o[:, 1], s=17, color=ORG, lw=0, alpha=.95)
    ax.plot(curve_t, curve_r, color='black', lw=1.5)
    ax.set_xlim(*xlim)
    ax.set_ylim(ylim[1], ylim[0])
    ax.set_xticks(xticks)
    ax.set_yticks(yticks)
    ax.set_yticklabels([])
    style(ax)
    h = AX(*hbox)
    t0b, t0o = hst
    h.bar(t0b + .1 * np.arange(len(hbb)), hbb, .1, color=SKY, lw=0, edgecolor='none')
    h.plot(t0b + .1 * np.arange(len(hbb)), hbb, color='#4a9ac8', lw=.5, ds='steps-mid')
    h.bar(t0o + .1 * np.arange(len(hob)), hob, .1, color='#d8a830', lw=0)
    h.set_xlim(*xlim)
    h.set_ylim(0, hyl)
    h.set_yticks(hyt)
    h.set_xticks([])
    style(h, True, False)
    return ax


raster((781, 69, 954, 207), (781, 34, 954, 65), (.33, 13.67), (13, 640), [(1, 2), (12, 13)], 7, C_blue, C_orange,
       C_curve_time, C_curve_rank, [2, 4, 6, 8, 10, 12], [100, 200, 300, 400, 500, 600], (3.3, 1.1), C_hist_orange,
       C_hist_blue, 100, [50, 100])
T(780, 24, '# cells')
T(860, 225, 'time (sec)')
raster((699, 611, 807, 748), (699, 585, 807, 608), (.16, 8.92), (7, 513), [(1, 4), (7, 8)], 2, I_blue, I_orange,
       I_curve_time, I_curve_rank, [2, 4, 6, 8], [100, 200, 300, 400, 500], (1.7, 1.0), I_hist_orange, I_hist_blue, 40,
       [20, 40])
T(704, 574, '# cells')
T(752, 769, 'time (sec)')


# ================================================================ D / K
def shift_panel(top, main, side, bar, ylim_top, ytop_ticks, ylim_main, ymain_ticks, bt, bv, ot, ov_, pb, po,
                sb, sbl, sor, bw, bval, berr, bmax, bticks, bticklabels, sideticks, sidemax, lines):
    a = AX(*top)
    a.axvspan(1, 2, color=BAND, lw=0)
    a.plot(ot, ov_, color=ORG, lw=1.3)
    a.plot(bt, bv, color=BLU, lw=1.3)
    a.set_xlim(1, 7)
    a.set_ylim(0, ylim_top)
    a.set_yticks(ytop_ticks)
    a.set_xticks(range(1, 8))
    a.set_xticklabels([])
    style(a)
    m = AX(*main)
    m.axvspan(1, 2, color=BAND, lw=0)
    pb = np.array(pb)
    po = np.array(po)
    m.scatter(pb[:, 0], pb[:, 1], s=6, color=SKY, alpha=.85, lw=0, clip_on=False)
    m.scatter(po[:, 0], po[:, 1], s=15, color=ORG, alpha=.9, lw=0, clip_on=False)
    m.set_xlim(1, 7)
    m.set_ylim(0, ylim_main)
    m.set_xticks(range(1, 8))
    m.set_yticks(ymain_ticks)
    style(m, box=True)
    s = AX(*side)
    s.barh(sb, sbl, bw, color=SKY, edgecolor='#4a9ac8', lw=.3)
    s.barh(sb, sor, bw, color=ORG, alpha=.55, lw=0)
    s.hlines(lines[0], 0, sidemax * .83, color=BLU, lw=1.3)
    s.hlines(lines[1], 0, sidemax * .83, color=ORG, lw=1.3)
    s.set_xlim(0, sidemax)
    s.set_ylim(0, ylim_main)
    s.set_xticks(sideticks)
    s.set_yticks([])
    style(s, True, True)
    s.spines['left'].set_linewidth(.4)
    b = AX(*bar)
    b.bar([0, 1], bval, .8, color=['#c8c8c8', 'white'], edgecolor=ORG, lw=1.2)
    for i, (l, h) in enumerate(berr):
        b.plot([i, i], [l, h], color='black', lw=1.1)
    b.set_xlim(-.55, 1.55)
    b.set_ylim(0, bmax)
    b.set_yticks(bticks)
    b.set_yticklabels(bticklabels)
    b.set_xticks([0, 1])
    b.set_xticklabels(['Od.', 'Ti.'])
    style(b, True, True, length=1.5)
    return a, m, s, b


shift_panel((449, 284, 614, 328), (448, 334, 614, 474), (618, 334, 652, 474), (613, 275, 643, 308), 10.8, [0, 5, 10],
            10.96, [0, 2, 4, 6, 8, 10], D_blue_t, D_blue_v, D_org_t, D_org_v, D_pts_blue, D_pts_org, D_side_bins,
            D_side_blue, D_side_org, .25, D_bar, D_bar_err, 1, [0, .5, 1], ['0', '0.5', '1'], [100], 135, (2.85, .45))
T(539, 268, '|Field shifts| 5→10 sec')
T(479, 285, r'$\rho_{\rm s}$ = -0.03', color='#3c86dc', ha='left')
T(479, 297, r'$\rho_{\rm s}$ = 0.56 ***', color='#e0b030', ha='left')
T(628, 262, '•••', color='black')
ov.plot([620, 620, 636, 636], [270, 267, 267, 270], color='#555', lw=.7)
T(655, 292, 'Mean shifts', rotation=270)
T(419, 310, 'Mean\nshifts (sec)', rotation=90, linespacing=1.25)
T(427, 407, 'Field shifts (sec)', rotation=90)
T(534, 497, '5-sec firing field times')
T(643, 497, '# cells')
ov.plot([648, 652, 652, 648], [437, 437, 467, 467], color='#555', lw=.7)
T(660, 452, '•••', color='black', rotation=90)

shift_panel((449, 827, 611, 863), (448, 875, 611, 1017), (615, 875, 648, 1017), (616, 818, 643, 853), 4, [0, 2, 4],
            6.05, [0, 1, 2, 3, 4, 5, 6], K_blue_t, K_blue_v, K_org_t, K_org_v, K_pts_blue, K_pts_org, K_side_bins,
            K_side_blue, K_side_org, .17, K_bar, K_bar_err, 1.45, [0, 1], ['0', '1'], [50], 60, (1.37, .45))
T(527, 810, '|Field shifts| 1→3 sec')
T(477, 821, r'$\rho_{\rm s}$ = 0.16 **', color='#3c86dc', ha='left')
T(477, 834, r'$\rho_{\rm s}$ = 0.5 ***', color='#e0b030', ha='left')
T(630, 809, '•••', color='black')
ov.plot([622, 622, 638, 638], [817, 814, 814, 817], color='#555', lw=.7)
T(655, 835, 'Mean shifts', rotation=270)
T(415, 845, 'Mean\nshifts (sec)', rotation=90, linespacing=1.25)
T(422, 952, 'Field shifts (sec)', rotation=90)
T(525, 1036, '1-sec firing field times')
T(631, 1036, '# cells')
ov.plot([646, 650, 650, 646], [985, 985, 1007, 1007], color='#555', lw=.7)
T(657, 996, '•••', color='black', rotation=90)


# ================================================================ E / L
def corr_hist(box, xlim, ymax, yticks, centers, width, red, blue, lr, lb):
    ax = AX(*box)
    ax.bar(centers, blue, width, color='#70c4e6', edgecolor='#4a9ac0', lw=.4, alpha=.95)
    ax.bar(centers, red, width, color='#b84c3c', edgecolor='#a04030', lw=.3, alpha=.62)
    ax.plot([lb, lb], [0, ymax * .98], color='#6078f0', lw=1.3, alpha=.9)
    ax.plot([lr, lr], [0, ymax * .98], color='#e84040', lw=1.3, alpha=.9)
    ax.set_xlim(*xlim)
    ax.set_ylim(0, ymax)
    ax.set_xticks([0, .5, 1])
    ax.set_xticklabels(['0', '0.5', '1'])
    ax.set_yticks(yticks)
    style(ax)
    return ax


E_c = [k * E_bin for k in E_k]
corr_hist((729, 312, 802, 378), (-.38, 1), 500, [0, 200, 400], E_c, E_bin, E_up_red, E_up_blue, .17, .33)
corr_hist((729, 405, 802, 473), (-.38, 1), 1020, [200, 600, 1000], E_c, E_bin, E_lo_red, E_lo_blue, .05, .2)
T(762, 282, 'Mean pairwise correlations\nacross trials', linespacing=1.3)
T(763, 309, '•••', color='black')
T(755, 402, '•••', color='black')
T(790, 316, '5 sec', size=8.5, color='#5068e0')
T(787, 329, '10 sec', size=8.5, color='#e03030')
T(699, 353, 'Odor-cell pairs', rotation=90)
T(699, 440, 'Time-cell pairs', rotation=90)
T(768, 493, 'Correlations')

a = corr_hist((728, 858, 804, 922), (-.41, 1), 300, [0, 100, 200, 300], L_centers, .07, L_up_red, L_up_blue, .1, .3)
a.set_xticklabels([])
corr_hist((728, 952, 804, 1017), (-.41, 1), 500, [0, 200, 400], L_centers, .07, L_lo_red, L_lo_blue, .04, .15)
T(763, 832.5, 'Mean pairwise correlations\nacross trials', linespacing=1.3)
T(763, 852, '•••', color='black')
T(756, 946, '•••', color='black')
T(788, 862, '1 sec', size=8.5, color='#5068e0')
T(788, 876, '3 sec', size=8.5, color='#e03030')
T(699, 890, 'Odor-cell pairs', rotation=90)
T(699, 986, 'Time-cell pairs', rotation=90)
T(763, 1037, 'Correlations')

# ================================================================ F
XF = (1.08, 12.2)
a = AX(886, 313, 1032, 378)
a.axvspan(1.08, 2, color=BAND, lw=0)
a.axvline(7, color='#666677', lw=1, ls=(0, (2.5, 1.5)))
a.plot(F_gray_t, F_gray_v, color='#8a8a8a', lw=1)
a.plot(F_rdash_t, F_rdash_v, color=RED, lw=.9, ls=(0, (2, 1.5)))
a.plot(F_blue_t, F_blue_v, color=BLU, lw=1.6)
a.plot(F_red_t, F_red_v, color=RED, lw=1.6)
a.plot([4.25], [1.8], ls='none', marker='o', ms=1.8, color=BLU)
a.plot(F_st_up, [5.7] * len(F_st_up), ls='none', marker='o', ms=1.6, color='black')
a.set_xlim(*XF)
a.set_ylim(0, 6)
a.set_yticks([0, 2, 4, 6])
a.set_xticks([2, 4, 6, 8, 10, 12])
style(a)
b = AX(886, 409, 1032, 472)
b.axvspan(1.08, 2, color=BAND, lw=0)
b.axvline(7, color='#666677', lw=1, ls=(0, (2.5, 1.5)))
b.plot(F_ld_t, F_ld_v, color='#903848', lw=.9, ls=(0, (2, 1.2)))
b.plot(F_lo_red_t, F_lo_red_v, color=RED, lw=1.5)
b.plot(F_lo_blue_t, F_lo_blue_v, color=BLU, lw=1.5)
b.plot([4.2], [80.5], ls='none', marker='o', ms=1.8, color=BLU)
b.plot(F_st_lo, [98] * len(F_st_lo), ls='none', marker='o', ms=1.6, color='black')
b.set_xlim(*XF)
b.set_ylim(40, 100)
b.set_yticks([40, 60, 80, 100])
b.set_xticks([2, 4, 6, 8, 10, 12])
style(b)
T(957, 276, 'Bayesian Decoding across delays')
T(929, 295, 'Original timing', size=8.5, color='#48aee8')
T(1002, 299.5, 'Sequence\nexpansion', size=8.5, color='#f06048', linespacing=1.2)
T(854, 345, 'Time decoding\nerror (sec)', rotation=90, linespacing=1.25)
T(854, 440, '% correct\nodor decoding', rotation=90, linespacing=1.25)
T(958, 497, 'time (sec)')

# ================================================================ J
j = AX(883, 611, 1016, 748)
j.axvspan(1, 4, color=BAND, lw=0, alpha=.8)
j.axvspan(7, 8, color=BAND, lw=0, alpha=.8)
j.axvline(2, color='#666677', lw=1, ls=(0, (2.5, 1.5)))
j.plot(J_blue_t, J_blue_v, color='#30b0e8', lw=1.1)
j.plot(J_red_t, J_red_v, color='#e84a38', lw=1.1)
for a0, b0 in J_bars:
    j.plot([a0, b0], [1.33, 1.33], color='#222222', lw=2.4, solid_capstyle='butt')
j.set_xlim(.08, 10.72)
j.set_ylim(0, 1.4)
j.set_yticks([.2, .4, .6, .8, 1, 1.2, 1.4])
j.set_yticklabels(['0.2', '0.4', '0.6', '0.8', '1', '1.2', '1.4'])
j.set_xticks([2, 4, 6, 8, 10])
style(j)
T(970, 641, '1 sec odor', size=8.5, color='#48aee8')
T(970, 654, '3 sec odor', size=8.5, color='#e85040')
T(850, 675, 'Stable odor-cell rates (a.u.)', rotation=90)
T(950, 769, 'time (sec)')

# ================================================================ M
m = AX(890, 864, 1026, 921)
m.axvspan(1.1, 4, color=BAND, lw=0)
m.axvline(2, color='#555566', lw=1, ls=(0, (2.5, 1.5)))
m.plot(M_blue_t, M_blue_v, color='#28a8e0', lw=1.7)
m.plot(M_dash_t, M_dash_v, color='#404040', lw=.8, ls=(0, (2, 1.5)))
m.plot(M_st_up, [3.05] * len(M_st_up), ls='none', marker='o', ms=1.6, color='black')
m.set_xlim(1.1, 6.9)
m.set_ylim(0, 3.4)
m.set_yticks([0, 1, 2, 3])
m.set_xticks([2, 4, 6])
m.set_xticklabels([])
style(m)
m = AX(890, 961, 1026, 1017)
m.axvspan(1.1, 4, color=BAND, lw=0, alpha=.7)
m.axvline(2, color='#555566', lw=1, ls=(0, (2.5, 1.5)))
m.plot(M_lo_t, M_lo_v, color='#28a8e0', lw=1.6)
m.plot(M_ld_t, M_ld_v, color='#404040', lw=.8, ls=(0, (2, 1.5)))
m.plot(M_st_lo, [90] * len(M_st_lo), ls='none', marker='o', ms=1.6, color='black')
m.set_xlim(1.1, 6.9)
m.set_ylim(40, 100)
m.set_yticks([40, 60, 80, 100])
m.set_xticks([2, 4, 6])
style(m)
T(951, 835.5, 'Bayesian Decoding\nacross odor-durations', linespacing=1.3)
T(854, 895, 'Time decoding\nerror (sec)', rotation=90, linespacing=1.25)
T(854, 985, '% correct\nodor decoding', rotation=90, linespacing=1.25)
T(958, 1037, 'time (sec)')

fig.savefig('out.png', dpi=100, facecolor='white')
